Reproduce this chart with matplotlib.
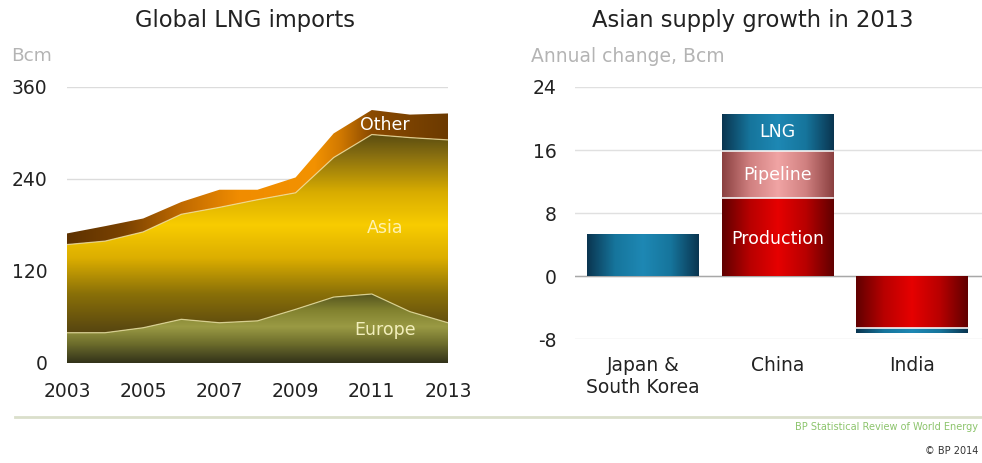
import numpy as np
import matplotlib
matplotlib.use("Agg")
import matplotlib.pyplot as plt
from matplotlib.colors import LinearSegmentedColormap
from matplotlib.lines import Line2D
from matplotlib.patches import Patch

plt.rcParams['font.family'] = ['DejaVu Sans']
plt.rcParams['axes.unicode_minus'] = False

# ---- Global LNG imports (Bcm) ----
years = [2003, 2004, 2005, 2006, 2007, 2008, 2009, 2010, 2011, 2012, 2013]
europe = [39.5, 39.5, 46, 57, 52.5, 55, 70, 86, 90, 67, 52.5]
asia = [115, 119.5, 125, 137, 150.5, 158, 152, 182, 208, 227, 238.5]
other = [14.5, 19.5, 17.5, 16, 23, 13, 20, 31.5, 32, 30, 34.5]

# ---- Asian supply growth in 2013 (annual change, Bcm) ----
countries = ["Japan &\nSouth Korea", "China", "India"]
production = [0.0, 9.9, -6.6]
pipeline = [0.0, 6.0, 0.0]
lng = [5.3, 4.7, -0.6]

W, H = 982, 463
fig = plt.figure(figsize=(W / 100, H / 100), dpi=100)
fig.patch.set_facecolor("white")


def fig_rect(x0, x1, ytop, ybot):
    return [x0 / W, 1 - ybot / H, (x1 - x0) / W, (ybot - ytop) / H]


def gradient_fill(ax, shape, cmap, extent, horizontal=False, n=256):
    """Paint a colour gradient clipped to the outline of a drawn shape."""
    grad = np.linspace(0, 1, n)
    arr = grad[np.newaxis, :] if horizontal else grad[:, np.newaxis]
    im = ax.imshow(arr, cmap=cmap, extent=extent, origin="lower",
                   aspect="auto", interpolation="bilinear", zorder=2)
    if isinstance(shape, Patch):
        im.set_clip_path(shape)
    else:
        im.set_clip_path(shape.get_paths()[0], transform=ax.transData)
    return im


# ================= Left: stacked area =================
axL = fig.add_axes(fig_rect(67, 448, 87, 363))
x = np.array(years, dtype=float)
e = np.array(europe)
ea = e + np.array(asia)
tot = ea + np.array(other)

p_eu = axL.fill_between(x, 0, e, facecolor="none", edgecolor="none", zorder=2)
p_as = axL.fill_between(x, e, ea, facecolor="none", edgecolor="none", zorder=2)
p_ot = axL.fill_between(x, ea, tot, facecolor="none", edgecolor="none", zorder=2)

cm_eu = LinearSegmentedColormap.from_list("eu", [
    (0.0, "#33331a"), (0.07, "#6e6e2c"), (0.13, "#9a9a44"),
    (0.19, "#82822f"), (0.26, "#4c4c1c"), (1.0, "#4c4c1c")])
cm_as = LinearSegmentedColormap.from_list("as", [
    (0.0, "#3a3008"), (0.12, "#5a4810"), (0.25, "#8a7008"), (0.38, "#dcae00"),
    (0.5, "#f8cc00"), (0.62, "#d8ac00"), (0.75, "#8a7010"), (0.83, "#5a4c10"),
    (1.0, "#4a3c08")])
cm_ot = LinearSegmentedColormap.from_list("ot", [
    (0.0, "#5e3200"), (0.15, "#7a4200"), (0.3, "#c06a00"), (0.45, "#f08c00"),
    (0.65, "#f39200"), (0.72, "#d07800"), (0.8, "#8a4a00"), (1.0, "#6c3a00")])

gradient_fill(axL, p_eu, cm_eu, [2003, 2013, 0, 360])
gradient_fill(axL, p_as, cm_as, [2003, 2013, 0, 360])
gradient_fill(axL, p_ot, cm_ot, [2003, 2013, 0, 360], horizontal=True)

axL.plot(x, e, color="#e8e0a0", lw=0.9, alpha=0.8, zorder=3)
axL.plot(x, ea, color="#f0e0a0", lw=0.9, alpha=0.8, zorder=3)

axL.set_xlim(2003, 2013)
axL.set_ylim(0, 360)
axL.set_yticks([0, 120, 240, 360])
axL.set_xticks([2003, 2005, 2007, 2009, 2011, 2013])
axL.yaxis.grid(True, color="#dcdcdc", lw=1)
axL.set_axisbelow(True)
for s in axL.spines.values():
    s.set_visible(False)
axL.tick_params(axis="both", length=0, labelsize=13.5, colors="#222222")
axL.tick_params(axis="y", pad=14)
axL.tick_params(axis="x", pad=14)
axL.set_facecolor("none")

axL.text(2011.35, 310, "Other", color="white", fontsize=12.5, ha="center", va="center", zorder=5)
axL.text(2011.35, 176, "Asia", color="#fff2b0", fontsize=12.5, ha="center", va="center", zorder=5)
axL.text(2011.35, 43, "Europe", color="#f2eebb", fontsize=12.5, ha="center", va="center", zorder=5)

fig.text(245 / W, 1 - 20 / H, "Global LNG imports", fontsize=16.3, ha="center", va="center", color="#222222")
fig.text(11 / W, 1 - 56 / H, "Bcm", fontsize=13.3, ha="left", va="center", color="#b4b4b4")

# ================= Right: stacked bars =================
axR = fig.add_axes(fig_rect(575, 982, 87, 339.3))
xi = np.arange(len(countries))
bw = 0.83

cm_blue = LinearSegmentedColormap.from_list("b", ["#0a3550", "#16759c", "#1e88b4", "#16759c", "#0a3550"])
cm_red = LinearSegmentedColormap.from_list("r", ["#600000", "#b80000", "#e60000", "#b80000", "#600000"])
cm_pink = LinearSegmentedColormap.from_list("p", ["#8a4040", "#d08080", "#f0a4a4", "#d08080", "#8a4040"])

prod = np.array(production)
pipe = np.array(pipeline)
lngv = np.array(lng)

b_prod = axR.bar(xi, prod, bw, color="none", edgecolor="none", zorder=2)
b_pipe = axR.bar(xi, pipe, bw, bottom=prod, color="none", edgecolor="none", zorder=2)
b_lng = axR.bar(xi, lngv, bw, bottom=prod + pipe, color="none", edgecolor="none", zorder=2)

for bars, cm in ((b_prod, cm_red), (b_pipe, cm_pink), (b_lng, cm_blue)):
    for r in bars:
        if r.get_height() == 0:
            continue
        x0, y0, w, h = r.get_x(), r.get_y(), r.get_width(), r.get_height()
        gradient_fill(axR, r, cm, [x0, x0 + w, min(y0, y0 + h), max(y0, y0 + h)], horizontal=True)

# thin separators between stacked segments
for bars in (b_pipe, b_lng):
    for r in bars:
        if r.get_height() == 0 or r.get_y() == 0:
            continue
        axR.plot([r.get_x(), r.get_x() + r.get_width()], [r.get_y()] * 2,
                 color="#f4f4f4", lw=1.2, zorder=4)

axR.set_xlim(-0.506, 2.52)
axR.set_ylim(-8, 24)
axR.set_yticks([-8, 0, 8, 16, 24])
axR.set_xticks(xi)
axR.set_xticklabels(countries, fontsize=13.5, color="#222222", linespacing=1.2)
axR.yaxis.grid(True, color="#e0e0e0", lw=1)
axR.axhline(0, color="#a8a8a8", lw=1, zorder=1)
axR.set_axisbelow(True)
for s in axR.spines.values():
    s.set_visible(False)
axR.tick_params(axis="both", length=0, labelsize=13.5, colors="#222222")
axR.tick_params(axis="y", pad=13)
axR.tick_params(axis="x", pad=12)
axR.set_facecolor("none")

china = 1
axR.text(china, prod[china] + pipe[china] + lngv[china] / 2, "LNG", color="white",
         fontsize=12.5, ha="center", va="center", zorder=5)
axR.text(china, prod[china] + pipe[china] / 2, "Pipeline", color="white",
         fontsize=12.5, ha="center", va="center", zorder=5)
axR.text(china, 4.7, "Production", color="white",
         fontsize=12.5, ha="center", va="center", zorder=5)

fig.text(753 / W, 1 - 20 / H, "Asian supply growth in 2013", fontsize=16.3, ha="center", va="center", color="#222222")
fig.text(531 / W, 1 - 56 / H, "Annual change, Bcm", fontsize=13.5, ha="left", va="center", color="#b4b4b4")

# ================= Footer =================
fig.add_artist(Line2D([15 / W, 1.0], [1 - 417 / H] * 2, color="#dadfcb", lw=2))
fig.text(978 / W, 1 - 427 / H, "BP Statistical Review of World Energy", fontsize=7,
         ha="right", va="center", color="#8cc46c")
fig.text(978 / W, 1 - 451 / H, "\u00a9 BP 2014", fontsize=7, ha="right", va="center", color="#333333")

fig.savefig("out.png", dpi=100, facecolor="white")
